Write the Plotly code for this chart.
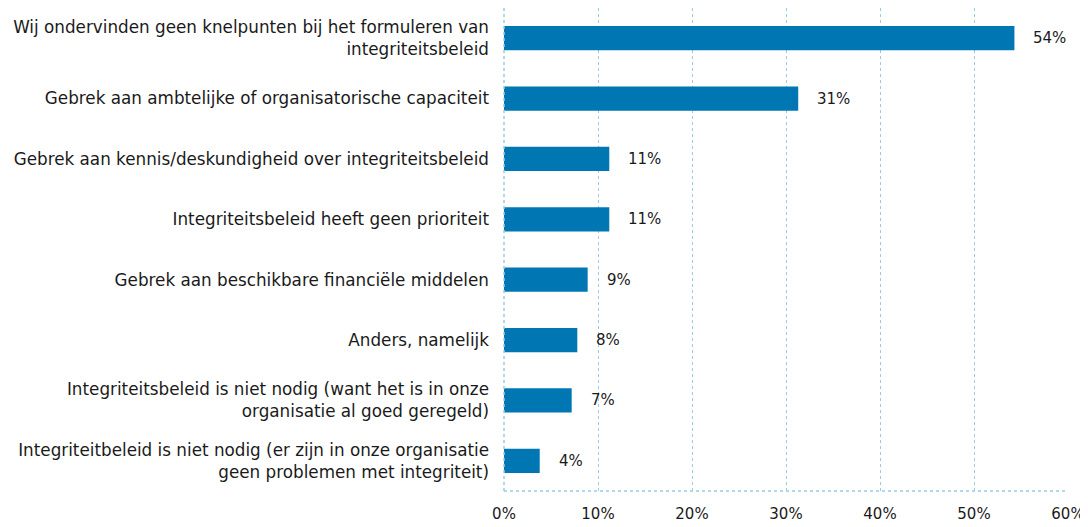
import plotly.graph_objects as go

categories = [
    "Wij ondervinden geen knelpunten bij het formuleren van<br>integriteitsbeleid",
    "Gebrek aan ambtelijke of organisatorische capaciteit",
    "Gebrek aan kennis/deskundigheid over integriteitsbeleid",
    "Integriteitsbeleid heeft geen prioriteit",
    "Gebrek aan beschikbare financiële middelen",
    "Anders, namelijk",
    "Integriteitsbeleid is niet nodig (want het is in onze<br>organisatie al goed geregeld)",
    "Integriteitbeleid is niet nodig (er zijn in onze organisatie<br>geen problemen met integriteit)",
]
values = [54.3, 31.3, 11.2, 11.2, 8.9, 7.8, 7.2, 3.8]
value_labels = ["54%", "31%", "11%", "11%", "9%", "8%", "7%", "4%"]
tick_vals = [0, 10, 20, 30, 40, 50, 60]
tick_text = ["0%", "10%", "20%", "30%", "40%", "50%", "60%"]

FONT = "DejaVu Sans"
BAR = "#0077B3"
GRID = "#9CCBE3"
TXT = "#1a1a1a"

fig = go.Figure()
fig.add_trace(go.Bar(
    x=values, y=categories, orientation="h",
    marker=dict(color=BAR, line=dict(width=0)),
    hoverinfo="x+y",
))
for c, v, t in zip(categories, values, value_labels):
    fig.add_annotation(x=v, y=c, text=t, showarrow=False, xanchor="left",
                       xshift=17, font=dict(family=FONT, size=15, color=TXT))

fig.update_layout(
    width=1080, height=519,
    margin=dict(l=496, r=20, t=0, b=36),
    paper_bgcolor="white", plot_bgcolor="white",
    bargap=0.6, showlegend=False,
    font=dict(family=FONT, size=15, color=TXT),
)
fig.update_xaxes(
    range=[0, 60], tickvals=tick_vals, ticktext=tick_text,
    showgrid=True, gridcolor=GRID, griddash="dot", gridwidth=1,
    zeroline=False, showline=False, ticks="", ticklabelstandoff=12,
    tickfont=dict(family=FONT, size=15, color=TXT),
)
fig.update_yaxes(
    categoryorder="array", categoryarray=categories, autorange="reversed",
    showgrid=False, zeroline=False, showline=False,
    ticks="", ticklabelstandoff=14,
    tickfont=dict(family=FONT, size=16.8, color=TXT),
)
fig.add_shape(type="line", xref="paper", yref="paper", x0=0, x1=1, y0=0, y1=0,
              line=dict(color=GRID, width=1.5, dash="dot"))
fig.add_shape(type="line", xref="paper", yref="paper", x0=0, x1=0, y0=0, y1=1,
              line=dict(color=GRID, width=1.5, dash="dot"))

fig.write_html("out.html")
